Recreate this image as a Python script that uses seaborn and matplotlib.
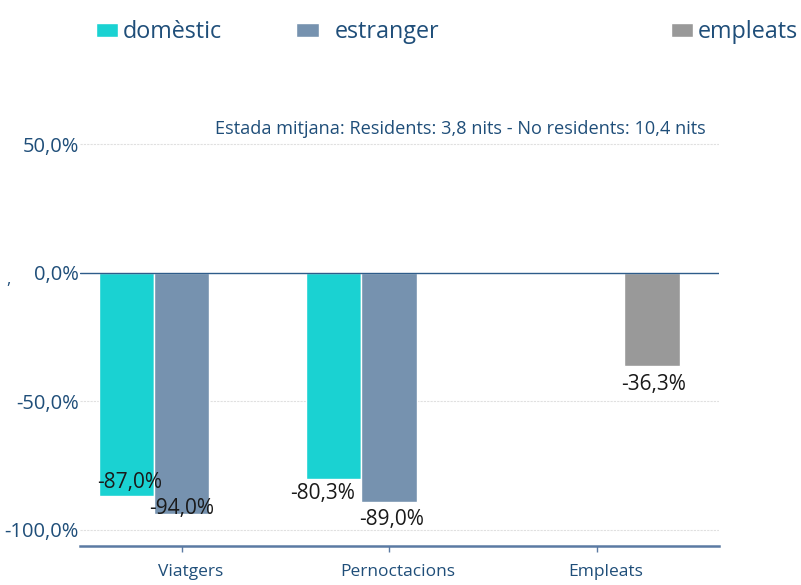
import numpy as np
import pandas as pd
import matplotlib.pyplot as plt
import seaborn as sns
import matplotlib.transforms as mtransforms
from matplotlib.patches import Patch

categories = ['Viatgers', 'Pernoctacions', 'Empleats']
series = ['domèstic', 'estranger', 'empleats']
domestic = [-87.0, -80.3, np.nan]
foreign = [-94.0, -89.0, np.nan]
staff = [np.nan, np.nan, -36.3]
y_ticks = [50, 0, -50, -100]
note = 'Estada mitjana: Residents: 3,8 nits - No residents: 10,4 nits'

colors = ['#1AD2D2', '#7692AF', '#999999']
navy = '#1F4E79'

rows = []
for s, vals in zip(series, [domestic, foreign, staff]):
    for c, v in zip(categories, vals):
        if not np.isnan(v):
            rows.append({'cat': c, 'serie': s, 'val': v})
df = pd.DataFrame(rows)

sns.set_theme(style='white')
plt.rcParams['font.family'] = ['Open Sans', 'DejaVu Sans']

fig = plt.figure(figsize=(8.01, 5.85), dpi=100)
ax = fig.add_axes([0.0999, 0.0667, 0.7977, 0.739])

sns.barplot(data=df, x='cat', y='val', hue='serie', order=categories,
            hue_order=series, palette=colors, width=0.8, saturation=1,
            errorbar=None, ax=ax, legend=False)

ax.set_xlim(-0.49, 2.59)
ax.set_ylim(-106.3, 62)
ax.set_xlabel(''); ax.set_ylabel('')

for sp in ['top', 'right', 'left']:
    ax.spines[sp].set_visible(False)
ax.spines['bottom'].set_color('#5B7AA3')
ax.spines['bottom'].set_linewidth(1.8)

ax.set_yticks(y_ticks)
ax.set_yticklabels([f'{t:.1f}%'.replace('.', ',') for t in y_ticks], color=navy, fontsize=14.5)
ax.tick_params(axis='y', length=0, pad=1)
ax.tick_params(axis='x', length=4, width=1, color='#5B7AA3', labelcolor=navy, labelsize=12.5, pad=9, direction='out', bottom=True)
shift = mtransforms.ScaledTranslation(0.09, 0, fig.dpi_scale_trans)
for lab in ax.get_xticklabels():
    lab.set_transform(lab.get_transform() + shift)
for t in [50, -50, -100]:
    ax.axhline(t, color='#E0E0E0', lw=0.8, ls=(0, (2, 1)), zorder=0)
ax.axhline(0, color='#2E5C8A', lw=1.0, zorder=3)

# value labels, offsets in points (dx, dy) from bar end
offsets = {('domèstic', 0): (2.5, 10), ('estranger', 0): (0, 4),
           ('domèstic', 1): (-8, -10), ('estranger', 1): (1.5, -13),
           ('empleats', 2): (1.5, -13)}
for s, vals in zip(series, [domestic, foreign, staff]):
    for i, v in enumerate(vals):
        if np.isnan(v):
            continue
        k = series.index(s)
        x = i + (k - 1) * 0.8 / 3
        dx, dy = offsets[(s, i)]
        ax.annotate(f'{v:.1f}%'.replace('.', ','), (x, v), xytext=(dx, dy),
                    textcoords='offset points', ha='center', va='center',
                    fontsize=15, color='#1A1A1A', zorder=5)

ax.text(0.98, 0.965, note, transform=ax.transAxes, ha='right', va='center',
        fontsize=13.1, color=navy)

# legend: three separate entries spread across the top
leg_x = [0.12, 0.37, 0.838]
for s, c, lx in zip(series, colors, leg_x):
    lg = fig.legend([Patch(facecolor=c)], [s], loc='center left',
                    bbox_to_anchor=(lx, 0.945), frameon=False, fontsize=16.8,
                    handlelength=0.95, handleheight=0.55,
                    handletextpad=0.2 if s != 'estranger' else 0.7,
                    borderaxespad=0, borderpad=0)
    for t in lg.get_texts():
        t.set_color(navy)

fig.text(0.011, 0.522, ',', fontsize=12, color=navy, ha='center', va='center')

fig.savefig('out.png', dpi=100)
